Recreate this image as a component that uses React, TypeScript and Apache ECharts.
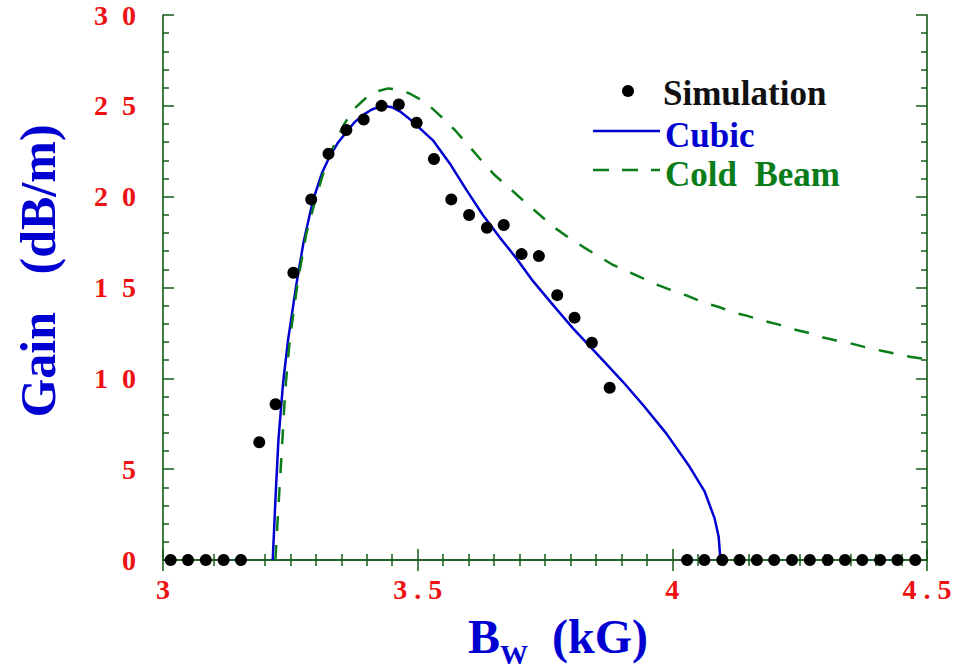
import React, { useEffect, useRef } from "react";
import * as echarts from "echarts";

// ---- data ----
const simX = [3.015, 3.049, 3.084, 3.119, 3.153, 3.189, 3.221, 3.256, 3.291, 3.325, 3.36, 3.394, 3.429, 3.463, 3.498, 3.532, 3.566, 3.601, 3.636, 3.669, 3.704, 3.738, 3.774, 3.808, 3.842, 3.877, 4.029, 4.063, 4.098, 4.132, 4.166, 4.2, 4.235, 4.27, 4.305, 4.339, 4.373, 4.408, 4.442, 4.477];
const simY = [0, 0, 0, 0, 0, 6.48, 8.57, 15.81, 19.85, 22.36, 23.67, 24.25, 25.0, 25.08, 24.07, 22.07, 19.85, 18.99, 18.29, 18.44, 16.84, 16.73, 14.58, 13.34, 11.96, 9.48, 0, 0, 0, 0, 0, 0, 0, 0, 0, 0, 0, 0, 0, 0];

const cubicX = [3.2154, 3.218, 3.221, 3.2266, 3.2357, 3.2455, 3.262, 3.276, 3.2945, 3.312, 3.327, 3.343, 3.36, 3.376, 3.393, 3.41, 3.432, 3.45, 3.465, 3.481, 3.4975, 3.53, 3.563, 3.596, 3.628, 3.661, 3.694, 3.7265, 3.766, 3.805, 3.857, 3.903, 3.9425, 3.988, 4.034, 4.0636, 4.083, 4.091, 4.0944];
const cubicY = [0, 1.6, 3.49, 6.6, 9.72, 12.1, 15.2, 17.5, 19.8, 21.3, 22.2, 22.95, 23.55, 24.1, 24.5, 24.8, 25.0, 24.92, 24.7, 24.35, 23.94, 23.1, 21.83, 20.36, 18.99, 17.76, 16.6, 15.35, 14.03, 12.75, 11.19, 9.81, 8.53, 6.97, 5.13, 3.76, 2.29, 1.28, 0];

const coldX = [3.2207, 3.2258, 3.2325, 3.24, 3.2488, 3.265, 3.2815, 3.301, 3.32, 3.34, 3.356, 3.373, 3.399, 3.42, 3.442, 3.462, 3.484, 3.514, 3.543, 3.573, 3.599, 3.625, 3.651, 3.681, 3.71, 3.74, 3.766, 3.7985, 3.8247, 3.857, 3.8835, 3.913, 3.9425, 3.972, 4.001, 4.031, 4.06, 4.09, 4.119, 4.1455, 4.178, 4.2075, 4.237, 4.2665, 4.296, 4.322, 4.352, 4.381, 4.4105, 4.44, 4.469, 4.5];
const coldY = [0, 2.57, 5.69, 9.36, 12.1, 15.4, 17.98, 20.0, 21.8, 23.1, 24.0, 24.77, 25.45, 25.8, 25.96, 25.9, 25.68, 25.22, 24.49, 23.67, 22.84, 22.0, 21.19, 20.45, 19.72, 18.99, 18.35, 17.7, 17.24, 16.69, 16.24, 15.87, 15.5, 15.13, 14.82, 14.53, 14.18, 13.94, 13.63, 13.45, 13.17, 12.97, 12.71, 12.51, 12.25, 12.08, 11.91, 11.7, 11.52, 11.34, 11.17, 11.05];

const xTickValues = [3, 3.5, 4, 4.5];
const xTickLabels = ["3", "3 . 5", "4", "4 . 5"];
const yTickValues = [0, 5, 10, 15, 20, 25, 30];
const yTickLabels = ["0", "5", "1  0", "1  5", "2  0", "2  5", "3  0"];

const seriesNames = ["Simulation", "Cubic", "Cold  Beam"];

const zip = (xs: number[], ys: number[]) => xs.map((x, i) => [x, ys[i]]);
const lookup = (vals: number[], labels: string[]) => (v: number) => {
  const i = vals.findIndex((t) => Math.abs(t - v) < 1e-6);
  return i >= 0 ? labels[i] : "";
};

const SERIF = "Liberation Serif";
const AXIS_COLOR = "#145a18";
const RED = "#ee1111";
const BLUE = "#0000d0";
const GREEN = "#0a7d1a";

export default function App() {
  const ref = useRef<HTMLDivElement>(null);

  useEffect(() => {
    if (!ref.current) return;
    const chart = echarts.init(ref.current, undefined, { renderer: "svg" });

    const axisLine = { show: true, lineStyle: { color: AXIS_COLOR, width: 1.6 } };
    const tickStyle = { color: AXIS_COLOR, width: 1.5 };

    const xBase = {
      type: "value" as const,
      min: 3,
      max: 4.5,
      interval: 0.5,
      axisLine,
      axisTick: { show: true, inside: true, length: 11, lineStyle: tickStyle },
      minorTick: { show: true, splitNumber: 10, length: 6, lineStyle: tickStyle },
      splitLine: { show: false },
      minorSplitLine: { show: false },
    };
    const yBase = {
      type: "value" as const,
      min: 0,
      max: 30,
      interval: 5,
      axisLine,
      axisTick: { show: true, inside: true, length: 11, lineStyle: tickStyle },
      minorTick: { show: true, splitNumber: 5, length: 6, lineStyle: tickStyle },
      splitLine: { show: false },
      minorSplitLine: { show: false },
    };

    chart.setOption({
      animation: false,
      backgroundColor: "#ffffff",
      grid: { left: 163, top: 15, right: 29, bottom: 109, containLabel: false },
      xAxis: [
        {
          ...xBase,
          position: "bottom",
          axisLabel: {
            show: true,
            margin: 15,
            color: RED,
            fontFamily: SERIF,
            fontWeight: "bold",
            fontSize: 28,
            formatter: lookup(xTickValues, xTickLabels),
          },
        },
        { ...xBase, position: "top", axisLabel: { show: false } },
      ],
      yAxis: [
        {
          ...yBase,
          position: "left",
          axisLabel: {
            show: true,
            margin: 27,
            color: RED,
            fontFamily: SERIF,
            fontWeight: "bold",
            fontSize: 28,
            formatter: lookup(yTickValues, yTickLabels),
          },
        },
        { ...yBase, position: "right", axisLabel: { show: false } },
      ],
      series: [
        {
          name: seriesNames[1],
          type: "line",
          data: zip(cubicX, cubicY),
          showSymbol: false,
          symbol: "none",
          lineStyle: { color: BLUE, width: 2.5 },
          z: 3,
        },
        {
          name: seriesNames[2],
          type: "line",
          data: zip(coldX, coldY),
          showSymbol: false,
          symbol: "none",
          lineStyle: { color: GREEN, width: 2.5, type: [15, 14] },
          z: 3,
        },
        {
          name: seriesNames[0],
          type: "scatter",
          data: zip(simX, simY),
          symbol: "circle",
          symbolSize: 12,
          itemStyle: { color: "#000000", opacity: 1 },
          clip: false,
          z: 4,
        },
      ],
      graphic: [
        // legend
        { type: "circle", shape: { cx: 628, cy: 91, r: 6 }, style: { fill: "#000" } },
        {
          type: "text",
          x: 663,
          y: 93,
          style: { text: seriesNames[0], fill: "#111", font: `bold 35px ${SERIF}`, align: "left", verticalAlign: "middle" },
        },
        { type: "line", shape: { x1: 593, y1: 131, x2: 660, y2: 131 }, style: { stroke: BLUE, lineWidth: 2.5 } },
        {
          type: "text",
          x: 665,
          y: 135,
          style: { text: seriesNames[1], fill: BLUE, font: `bold 35px ${SERIF}`, align: "left", verticalAlign: "middle" },
        },
        {
          type: "line",
          shape: { x1: 593, y1: 170, x2: 660, y2: 170 },
          style: { stroke: GREEN, lineWidth: 2.5, lineDash: [16, 13] },
        },
        {
          type: "text",
          x: 665,
          y: 174,
          style: { text: seriesNames[2], fill: GREEN, font: `bold 35px ${SERIF}`, align: "left", verticalAlign: "middle" },
        },
        // axis titles
        {
          type: "text",
          x: 38,
          y: 271,
          rotation: Math.PI / 2,
          style: {
            text: "Gain   (dB/m)",
            fill: BLUE,
            font: `bold 50px ${SERIF}`,
            align: "center",
            verticalAlign: "middle",
          },
        },
        {
          type: "text",
          x: 558,
          y: 636,
          style: {
            text: "{b|B}{s|W}{b|  (kG)}",
            align: "center",
            verticalAlign: "middle",
            rich: {
              b: { fill: BLUE, fontFamily: SERIF, fontWeight: "bold", fontSize: 48 },
              s: { fill: BLUE, fontFamily: SERIF, fontWeight: "bold", fontSize: 28, padding: [36, 0, 0, 0] },
            },
          },
        },
      ],
    });

    return () => chart.dispose();
  }, []);

  return (
    <div
      ref={ref}
      style={{ position: "fixed", left: 0, top: 0, width: 956, height: 669, background: "#fff" }}
    />
  );
}
